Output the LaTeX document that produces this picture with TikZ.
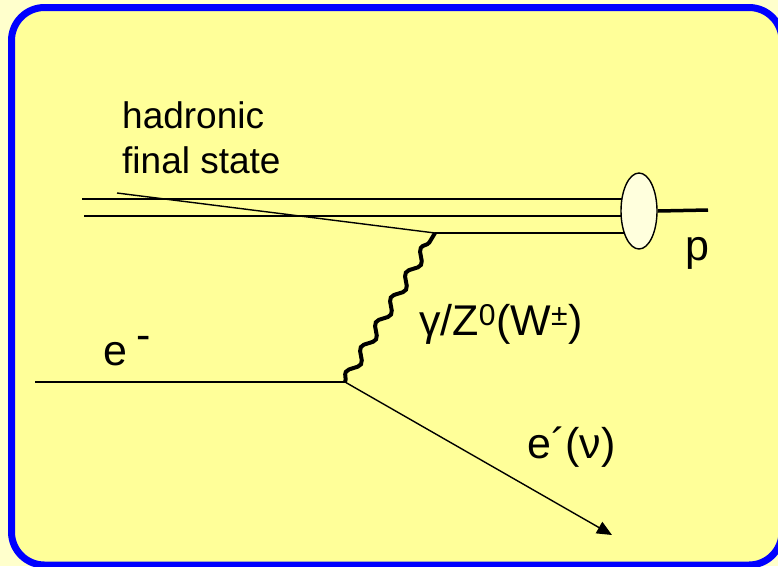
\documentclass[tikz,border=0pt]{standalone}
\usepackage{fontspec}
\setmainfont{Liberation Sans}
\usetikzlibrary{arrows.meta,shapes.geometric,decorations.pathmorphing}
\definecolor{slidepale}{HTML}{FFFFCC}
\definecolor{slidefill}{HTML}{FFFF99}
\definecolor{slideblue}{HTML}{0000FF}
\definecolor{blobfill}{HTML}{FFFFDD}
\newcommand{\feynlabel}[3]{%
  \node[biglabel] (#1) at (#2) {#3};
}

\begin{document}
\begin{tikzpicture}[x=1pt, y=-1pt,
  biglabel/.style={font=\fontsize{43}{47}\selectfont, anchor=base west, inner sep=0pt},
  smalllabel/.style={font=\fontsize{37}{41}\selectfont, anchor=base west, inner sep=0pt},
  quark/.style={line width=1.4pt},
  lepton/.style={line width=1.8pt}]

  % slide frame
  \useasboundingbox (0,0) rectangle (778,566);
  \fill[slidepale] (0,0) rectangle (778,566);
  \draw[slideblue, fill=slidefill, line width=7pt, rounded corners=33pt]
    (11.5,7.5) rectangle (782,565);

  % vertices and free ends
  \coordinate (vtxq) at (435,233);
  \coordinate (vtxe) at (345,382);
  \coordinate (ein) at (35,382);
  \coordinate (eout) at (612,535);
  \coordinate (hadr) at (117,193);
  \coordinate (q1) at (82,199);
  \coordinate (q2) at (84,216);
  \coordinate (q1end) at (639,199);
  \coordinate (q2end) at (639,216);
  \coordinate (q3end) at (639,233);
  \coordinate (pend) at (708,210);

  % proton remnant and struck quark
  \draw[quark] (q1) -- (q1end);
  \draw[quark] (q2) -- (q2end);
  \draw[quark] (vtxq) -- (q3end);
  \draw[quark] (hadr) -- (vtxq);
  \node[ellipse, draw, line width=1.4pt, fill=blobfill, minimum width=36pt,
        minimum height=76pt, inner sep=0pt] (blob) at (639,211) {};
  \draw[line width=3.5pt] (blob.east) -- (pend);

  % lepton side
  \draw[lepton] (ein) -- (vtxe);
  \draw[quark, -{Triangle[length=15pt,width=13pt]}] (vtxe) -- (eout);
  \draw[line width=4pt, decorate,
        decoration={snake, segment length=29pt, amplitude=4.5pt}] (vtxe) -- (vtxq);

  % labels
  \node[smalllabel] (hadtxt) at (122,128) {hadronic};
  \node[smalllabel] (fintxt) at (122,173) {final state};
  \feynlabel{ptxt}{685,260}{p}
  \feynlabel{emtxt}{103,365}{e\hspace{9pt}\raisebox{16pt}{-}}
  \feynlabel{bostxt}{419,335}{γ/Z\textsuperscript{0}(W\textsuperscript{±})}
  \feynlabel{eotxt}{527,458}{e´(ν)}

\end{tikzpicture}
\end{document}
